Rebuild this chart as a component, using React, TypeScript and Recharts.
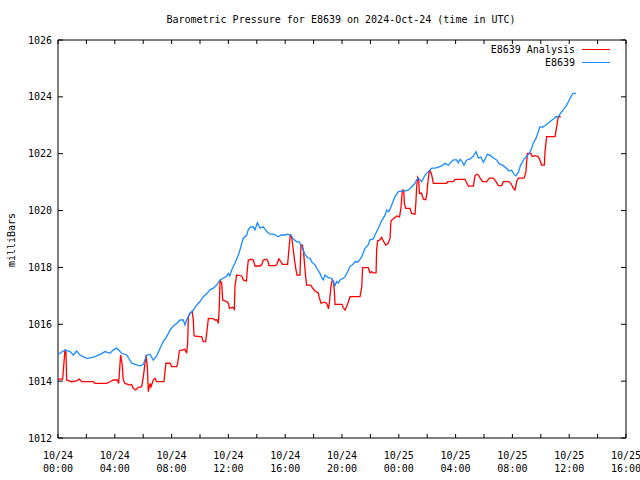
import React from 'react';
import { LineChart, Line, XAxis, YAxis, ReferenceArea } from 'recharts';

// E8639 Analysis (red) — hours since 2024-10-24 00:00 UTC
const analysisHours = [
  0.0, 0.33, 0.37, 0.49, 0.56, 0.61, 0.96, 1.31, 1.5, 1.67, 2.49, 2.6, 3.43, 3.66, 3.9, 4.18, 4.27, 4.41, 4.51, 4.6,
  4.72, 5.07, 5.19, 5.3, 5.47, 5.66, 5.89, 6.01, 6.2, 6.29, 6.36, 6.48, 6.55, 6.71, 6.83, 6.95, 7.46, 7.6, 7.89, 8.0,
  8.36, 8.43, 8.55, 8.94, 9.06, 9.13, 9.18, 9.3, 9.45, 9.53, 9.58, 10.12, 10.23, 10.4, 10.47, 10.59, 10.94, 11.05, 11.22, 11.29,
  11.36, 11.41, 11.53, 11.6, 11.88, 12.0, 12.07, 12.3, 12.42, 12.46, 12.58, 12.94, 13.05, 13.27, 13.33, 13.4, 13.64, 13.75, 13.87, 14.23,
  14.35, 14.46, 14.7, 14.8, 14.86, 15.3, 15.4, 15.56, 15.7, 15.8, 16.17, 16.27, 16.36, 16.46, 16.55, 16.64, 16.76, 16.83, 17.04, 17.11,
  17.2, 17.28, 17.35, 17.44, 17.51, 17.8, 17.91, 18.05, 18.22, 18.33, 18.38, 18.52, 18.75, 18.9, 18.99, 19.04, 19.11, 19.23, 19.32, 19.4,
  19.46, 19.51, 19.8, 20.0, 20.09, 20.21, 20.32, 20.44, 20.56, 21.27, 21.39, 21.45, 21.85, 21.97, 22.1, 22.2, 22.4, 22.44, 22.51, 22.65,
  22.79, 22.9, 23.08, 23.25, 23.38, 23.45, 23.6, 23.85, 24.05, 24.15, 24.25, 24.35, 24.39, 24.49, 24.79, 24.9, 25.14, 25.2, 25.26, 25.33,
  25.4, 25.45, 25.6, 25.73, 25.9, 25.98, 26.03, 26.13, 26.2, 26.3, 26.36, 26.43, 27.37, 27.44, 27.84, 27.96, 28.66, 28.78, 28.9, 29.25,
  29.37, 29.48, 29.6, 29.72, 29.9, 30.2, 30.37, 30.66, 30.8, 31.01, 31.25, 31.36, 31.75, 31.9, 32.07, 32.18, 32.3, 32.42, 32.82, 32.95,
  33.05, 33.3, 33.4, 33.59, 33.8, 33.92, 34.06, 34.25, 34.3, 34.41, 35.0, 35.12, 35.23, 35.4,
];
const analysisValues = [
  1014.07, 1014.07, 1014.33, 1015.1, 1015.02, 1014.04, 1013.98, 1014.01, 1014.07, 1013.98, 1013.98, 1013.92, 1013.92, 1013.98, 1014.04, 1014.04, 1013.92, 1014.92, 1014.63, 1014.04,
  1013.92, 1013.86, 1013.88, 1013.75, 1013.69, 1013.78, 1013.8, 1014.16, 1014.92, 1014.51, 1013.63, 1013.92, 1013.8, 1014.04, 1014.1, 1013.98, 1013.98, 1014.63, 1014.63, 1014.51,
  1014.51, 1014.63, 1015.07, 1015.12, 1014.98, 1015.33, 1016.27, 1016.39, 1016.44, 1016.15, 1015.59, 1015.56, 1015.39, 1015.39, 1015.68, 1016.21, 1016.2, 1016.15, 1016.15, 1016.03,
  1016.62, 1017.56, 1017.44, 1016.85, 1016.8, 1016.74, 1016.56, 1016.6, 1016.53, 1017.32, 1017.73, 1017.7, 1017.56, 1017.52, 1017.91, 1018.26, 1018.29, 1018.26, 1018.05, 1018.05,
  1018.1, 1018.26, 1018.29, 1018.2, 1018.06, 1018.06, 1018.1, 1018.3, 1018.2, 1018.11, 1018.11, 1018.67, 1019.17, 1019.05, 1018.7, 1018.32, 1017.91, 1017.73, 1017.73, 1018.79,
  1018.79, 1018.61, 1018.2, 1017.67, 1017.38, 1017.38, 1017.29, 1017.2, 1017.13, 1017.1, 1016.97, 1016.74, 1016.78, 1016.74, 1016.66, 1016.54, 1016.74, 1017.38, 1017.56, 1017.5,
  1017.17, 1016.7, 1016.7, 1016.7, 1016.58, 1016.5, 1016.62, 1016.77, 1016.97, 1016.97, 1017.32, 1017.99, 1017.99, 1017.81, 1017.85, 1017.81, 1017.81, 1018.61, 1018.94, 1018.96,
  1019.06, 1018.94, 1018.79, 1018.85, 1019.02, 1019.64, 1019.7, 1019.81, 1019.78, 1020.08, 1020.72, 1020.72, 1020.26, 1020.08, 1020.08, 1019.9, 1019.87, 1020.26, 1020.84, 1021.17,
  1021.1, 1020.61, 1020.61, 1020.4, 1020.38, 1020.61, 1020.9, 1021.33, 1021.4, 1021.3, 1021.15, 1020.96, 1020.96, 1021.02, 1021.02, 1021.1, 1021.1, 1020.98, 1020.86, 1020.86,
  1021.23, 1021.28, 1021.25, 1021.15, 1021.02, 1021.02, 1021.14, 1021.14, 1021.05, 1020.88, 1020.88, 1021.02, 1021.02, 1020.95, 1020.78, 1020.72, 1021.02, 1021.14, 1021.14, 1021.35,
  1022.01, 1022.01, 1021.9, 1021.93, 1021.9, 1021.8, 1021.6, 1021.6, 1022.1, 1022.6, 1022.6, 1022.95, 1023.3, 1023.3,
];

// E8639 station (blue)
const stationHours = [
  0.0, 0.49, 0.85, 1.08, 1.31, 1.55, 1.78, 2.02, 2.37, 2.6, 2.96, 3.31, 3.66, 3.9, 4.13, 4.48, 4.84, 5.19, 5.54, 5.77,
  6.01, 6.25, 6.48, 6.71, 6.95, 7.18, 7.42, 7.65, 7.89, 8.12, 8.36, 8.59, 8.83, 8.94, 9.06, 9.3, 9.53, 9.77, 10.0, 10.23,
  10.47, 10.7, 10.94, 11.18, 11.41, 11.64, 11.88, 12.0, 12.1, 12.23, 12.46, 12.7, 12.82, 12.94, 13.05, 13.29, 13.4, 13.52, 13.75, 13.87,
  14.04, 14.23, 14.46, 14.7, 14.93, 15.2, 15.51, 15.7, 16.0, 16.1, 16.4, 16.57, 16.81, 17.0, 17.16, 17.39, 17.58, 17.75, 17.86, 18.1,
  18.22, 18.45, 18.57, 18.68, 18.8, 19.04, 19.27, 19.39, 19.51, 19.62, 19.74, 19.86, 20.09, 20.21, 20.4, 20.56, 20.74, 20.92, 21.15, 21.39,
  21.62, 21.85, 21.97, 22.2, 22.32, 22.56, 22.79, 23.03, 23.15, 23.3, 23.5, 23.73, 23.97, 24.44, 24.67, 24.91, 25.14, 25.26, 25.38, 25.5,
  25.61, 25.85, 26.08, 26.32, 26.55, 26.79, 27.02, 27.25, 27.49, 27.6, 27.84, 28.07, 28.19, 28.31, 28.43, 28.59, 28.78, 29.0, 29.25, 29.44,
  29.6, 29.78, 29.95, 30.07, 30.23, 30.42, 30.66, 30.89, 31.08, 31.36, 31.6, 31.78, 31.95, 32.11, 32.25, 32.42, 32.58, 32.82, 33.0, 33.19,
  33.36, 33.47, 33.66, 33.83, 33.94, 34.13, 34.3, 34.53, 34.65, 34.88, 35.07, 35.23, 35.35, 35.58, 35.82, 36.01, 36.18, 36.29, 36.48,
];
const stationValues = [
  1014.94, 1015.1, 1015.04, 1014.92, 1015.06, 1014.92, 1014.86, 1014.8, 1014.83, 1014.86, 1014.94, 1015.04, 1014.98, 1015.1, 1015.16, 1014.98, 1014.92, 1014.63, 1014.57, 1014.54,
  1014.59, 1014.92, 1014.94, 1014.74, 1014.89, 1015.15, 1015.4, 1015.56, 1015.8, 1015.94, 1016.03, 1016.15, 1016.15, 1015.98, 1016.15, 1016.39, 1016.5, 1016.68, 1016.8, 1016.97,
  1017.07, 1017.21, 1017.27, 1017.38, 1017.56, 1017.62, 1017.7, 1017.79, 1017.7, 1017.91, 1018.15, 1018.44, 1018.62, 1018.85, 1019.03, 1019.14, 1019.32, 1019.41, 1019.43, 1019.32,
  1019.57, 1019.38, 1019.43, 1019.26, 1019.17, 1019.17, 1019.08, 1019.14, 1019.14, 1019.17, 1019.14, 1019.0, 1018.9, 1018.9, 1018.73, 1018.46, 1018.34, 1018.32, 1018.2, 1018.09,
  1017.97, 1017.79, 1017.64, 1017.56, 1017.73, 1017.64, 1017.62, 1017.5, 1017.36, 1017.5, 1017.45, 1017.56, 1017.62, 1017.67, 1017.85, 1018.03, 1018.09, 1018.2, 1018.2, 1018.38,
  1018.67, 1018.8, 1018.97, 1019.0, 1019.14, 1019.38, 1019.64, 1019.84, 1020.02, 1019.96, 1020.2, 1020.49, 1020.67, 1020.69, 1020.72, 1020.84, 1020.96, 1021.08, 1021.14, 1021.08,
  1021.02, 1021.25, 1021.37, 1021.49, 1021.49, 1021.53, 1021.57, 1021.66, 1021.6, 1021.66, 1021.78, 1021.78, 1021.68, 1021.8, 1021.75, 1021.6, 1021.78, 1021.81, 1021.92, 1022.07,
  1021.85, 1021.88, 1021.7, 1021.8, 1021.98, 1021.95, 1021.85, 1021.78, 1021.64, 1021.58, 1021.48, 1021.39, 1021.42, 1021.28, 1021.22, 1021.35, 1021.6, 1021.81, 1021.9, 1022.01,
  1022.2, 1022.37, 1022.54, 1022.78, 1022.95, 1022.93, 1022.99, 1023.08, 1023.13, 1023.22, 1023.3, 1023.3, 1023.39, 1023.54, 1023.71, 1023.89, 1024.07, 1024.12, 1024.12,
];

const xTickHours = [0, 2, 4, 6, 8, 10, 12, 14, 16, 18, 20, 22, 24, 26, 28, 30, 32, 34, 36, 38, 40];
const xLabelHours = [0, 4, 8, 12, 16, 20, 24, 28, 32, 36, 40];
const xLabelDates = ['10/24', '10/24', '10/24', '10/24', '10/24', '10/24', '10/25', '10/25', '10/25', '10/25', '10/25'];
const xLabelTimes = ['00:00', '04:00', '08:00', '12:00', '16:00', '20:00', '00:00', '04:00', '08:00', '12:00', '16:00'];
const yTicks = [1012, 1014, 1016, 1018, 1020, 1022, 1024, 1026];

const seriesNames = ['E8639 Analysis', 'E8639'];
const seriesColors = ['#ff0000', '#1a8cff'];

const analysisData = analysisHours.map((h, i) => ({ h, v: analysisValues[i] }));
const stationData = stationHours.map((h, i) => ({ h, v: stationValues[i] }));

const W = 640;
const H = 480;
const X_AXIS_H = 36;
const Y_AXIS_W = 50;
const MARGIN = { top: 40, right: 14, bottom: 42 - X_AXIS_H, left: 58 - Y_AXIS_W };
const PLOT_TOP = 40;
const PLOT_BOTTOM = 438;
const PLOT_LEFT = 58;
const PLOT_RIGHT = W - MARGIN.right;
const FONT = '"DejaVu Sans Mono", "Liberation Mono", monospace';

const XTick = (props: any) => {
  const { x, payload } = props;
  const v = payload.value;
  const idx = xLabelHours.indexOf(v);
  return (
    <g>
      <line x1={x} x2={x} y1={PLOT_BOTTOM} y2={PLOT_BOTTOM - 4} stroke="#000" strokeWidth={1} />
      <line x1={x} x2={x} y1={PLOT_TOP} y2={PLOT_TOP + 4} stroke="#000" strokeWidth={1} />
      {idx >= 0 && (
        <text x={x} y={PLOT_BOTTOM + 21} textAnchor="middle" fontFamily={FONT} fontSize={10} fill="#000">
          {xLabelDates[idx]}
        </text>
      )}
      {idx >= 0 && (
        <text x={x} y={PLOT_BOTTOM + 34} textAnchor="middle" fontFamily={FONT} fontSize={10} fill="#000">
          {xLabelTimes[idx]}
        </text>
      )}
    </g>
  );
};

const YTick = (props: any) => {
  const { y, payload } = props;
  return (
    <g>
      <line x1={PLOT_LEFT} x2={PLOT_LEFT + 5} y1={y} y2={y} stroke="#000" strokeWidth={1} />
      <line x1={PLOT_RIGHT} x2={PLOT_RIGHT - 5} y1={y} y2={y} stroke="#000" strokeWidth={1} />
      <text x={PLOT_LEFT - 6} y={y + 3.5} textAnchor="end" fontFamily={FONT} fontSize={10} fill="#000">
        {payload.value}
      </text>
    </g>
  );
};

export default function App() {
  return (
    <div style={{ position: 'absolute', left: 0, top: 0, width: W, height: H, background: '#fff' }}>
      <div
        style={{
          position: 'absolute',
          left: 21,
          top: 14,
          width: W,
          textAlign: 'center',
          fontFamily: FONT,
          fontSize: 10,
          lineHeight: '12px',
          color: '#000',
          whiteSpace: 'nowrap',
        }}
      >
        Barometric Pressure for E8639 on 2024-Oct-24 (time in UTC)
      </div>
      <div
        style={{
          position: 'absolute',
          left: 12,
          top: 240,
          transform: 'translate(-50%, -50%) rotate(-90deg)',
          fontFamily: FONT,
          fontSize: 10,
          lineHeight: '12px',
          whiteSpace: 'nowrap',
          color: '#000',
        }}
      >
        milliBars
      </div>
      <LineChart width={W} height={H} margin={MARGIN}>
        <XAxis
          dataKey="h"
          type="number"
          domain={[0, 40]}
          ticks={xTickHours}
          interval={0}
          height={X_AXIS_H}
          axisLine={false}
          tickLine={false}
          tick={XTick}
          allowDataOverflow
        />
        <YAxis
          type="number"
          domain={[1012, 1026]}
          ticks={yTicks}
          interval={0}
          width={Y_AXIS_W}
          axisLine={false}
          tickLine={false}
          tick={YTick}
          allowDataOverflow
        />
        <ReferenceArea x1={0} x2={40} y1={1012} y2={1026} fill="none" fillOpacity={0} stroke="#000" strokeWidth={1} />
        <Line
          data={analysisData}
          dataKey="v"
          name={seriesNames[0]}
          type="linear"
          stroke={seriesColors[0]}
          strokeWidth={1.3}
          dot={false}
          isAnimationActive={false}
        />
        <Line
          data={stationData}
          dataKey="v"
          name={seriesNames[1]}
          type="linear"
          stroke={seriesColors[1]}
          strokeWidth={1.3}
          dot={false}
          isAnimationActive={false}
        />
      </LineChart>
      {seriesNames.map((name, i) => (
        <React.Fragment key={name}>
          <div
            style={{
              position: 'absolute',
              left: 377,
              width: 198,
              top: 43 + i * 13,
              textAlign: 'right',
              fontFamily: FONT,
              fontSize: 10,
              lineHeight: '13px',
              color: '#000',
              whiteSpace: 'nowrap',
            }}
          >
            {name}
          </div>
          <div
            style={{
              position: 'absolute',
              left: 582,
              width: 28,
              top: 49 + i * 13,
              height: 1,
              background: seriesColors[i],
            }}
          />
        </React.Fragment>
      ))}
    </div>
  );
}
